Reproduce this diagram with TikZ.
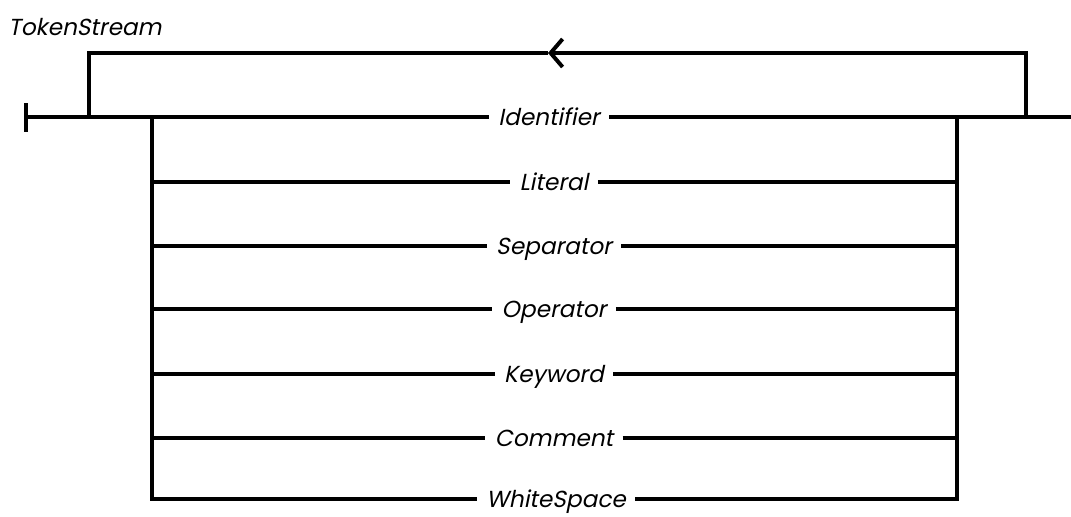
\documentclass[tikz,border=0pt]{standalone}
\usepackage{fontspec}
\setmainfont{Poppins}
\newfontfamily\railfont{Poppins}[FakeSlant=0.2]
\usetikzlibrary{arrows.meta}

\tikzset{
    rail/.style={line width=2.8pt},
    prod/.style={font=\railfont\fontsize{16.5}{20}\selectfont,
        inner xsep=0.23cm, inner ysep=0pt, text height=12pt, text depth=0.6pt}
}

\begin{document}
\begin{tikzpicture}[x=0.025cm, y=-0.025cm]
\useasboundingbox (0,0) rectangle (1071,516);

% === Title ===
\node[prod, anchor=west, inner xsep=0pt] (title) at (8,27) {TokenStream};

% === Main rail points ===
\coordinate (start) at (26,117);
\coordinate (loopL) at (89,117);
\coordinate (split) at (152,117);
\coordinate (join) at (957,117);
\coordinate (loopR) at (1026,117);
\coordinate (finish) at (1071,117);
\coordinate (top) at (548,53);

% Alternatives
\foreach \name/\txt/\x/\y in {identifier/Identifier/549/117, literal/Literal/554/182,
    separator/Separator/554/246, operator/Operator/554/309, keyword/Keyword/554/374,
    comment/Comment/554/438, whitespace/WhiteSpace/556/499} {
    \node[prod] (\name) at (\x,\y) {\txt};
}

% Start bar and main line
\draw[rail] (start) ++(0,-14) -- ++(0,29);
\draw[rail] (start) -- (identifier.west);
\draw[rail] (identifier.east) -- (finish);

% Branch columns
\draw[rail] (split) |- (whitespace.west);
\draw[rail] (whitespace.east) -| (join);
\foreach \name in {literal, separator, operator, keyword, comment} {
    \draw[rail] (split |- \name.west) -- (\name.west);
    \draw[rail] (\name.east) -- (join |- \name.east);
}

% Repeat loop
\draw[rail, -{Straight Barb[length=0.3cm, width=0.7cm]}] (loopR) |- (top);
\draw[rail] (top) -| (loopL);

\end{tikzpicture}
\end{document}
